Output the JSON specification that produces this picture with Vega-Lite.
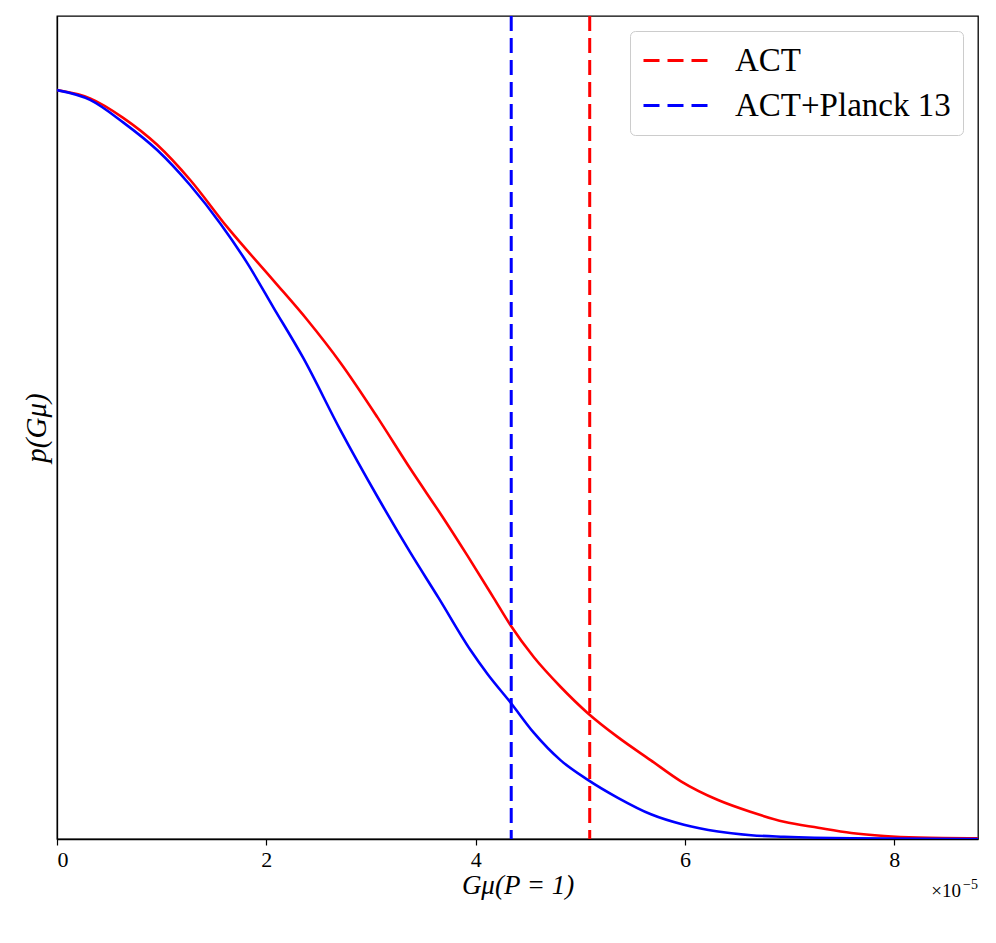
{
  "$schema": "https://vega.github.io/schema/vega-lite/v6.json",
  "autosize": "none",
  "width": 921,
  "height": 823,
  "padding": {"left": 57, "top": 16, "right": 18, "bottom": 104},
  "background": "white",
  "config": {
    "view": {"stroke": "black", "strokeWidth": 1.3},
    "font": "Liberation Serif",
    "axis": {"grid": false, "domainColor": "black", "domainWidth": 1.3, "tickColor": "black", "labelColor": "black", "titleColor": "black", "titleFontWeight": "normal"}
  },
  "datasets": {
    "curves": [
      {"series": "ACT", "gmu": 0, "p": 1.0},
      {"series": "ACT", "gmu": 0.316, "p": 0.989},
      {"series": "ACT", "gmu": 0.632, "p": 0.963},
      {"series": "ACT", "gmu": 0.957, "p": 0.927},
      {"series": "ACT", "gmu": 1.273, "p": 0.880},
      {"series": "ACT", "gmu": 1.627, "p": 0.817},
      {"series": "ACT", "gmu": 2.067, "p": 0.746},
      {"series": "ACT", "gmu": 2.392, "p": 0.693},
      {"series": "ACT", "gmu": 2.708, "p": 0.636},
      {"series": "ACT", "gmu": 3.062, "p": 0.563},
      {"series": "ACT", "gmu": 3.378, "p": 0.494},
      {"series": "ACT", "gmu": 3.694, "p": 0.428},
      {"series": "ACT", "gmu": 3.923, "p": 0.378},
      {"series": "ACT", "gmu": 4.172, "p": 0.322},
      {"series": "ACT", "gmu": 4.335, "p": 0.285},
      {"series": "ACT", "gmu": 4.555, "p": 0.243},
      {"series": "ACT", "gmu": 4.813, "p": 0.203},
      {"series": "ACT", "gmu": 5.072, "p": 0.168},
      {"series": "ACT", "gmu": 5.359, "p": 0.136},
      {"series": "ACT", "gmu": 5.675, "p": 0.105},
      {"series": "ACT", "gmu": 5.962, "p": 0.077},
      {"series": "ACT", "gmu": 6.316, "p": 0.052},
      {"series": "ACT", "gmu": 6.632, "p": 0.036},
      {"series": "ACT", "gmu": 6.947, "p": 0.023},
      {"series": "ACT", "gmu": 7.273, "p": 0.015},
      {"series": "ACT", "gmu": 7.589, "p": 0.008},
      {"series": "ACT", "gmu": 7.904, "p": 0.004},
      {"series": "ACT", "gmu": 8.23, "p": 0.002},
      {"series": "ACT", "gmu": 8.8, "p": 0.001},
      {"series": "ACT+Planck 13", "gmu": 0, "p": 1.0},
      {"series": "ACT+Planck 13", "gmu": 0.316, "p": 0.987},
      {"series": "ACT+Planck 13", "gmu": 0.632, "p": 0.957},
      {"series": "ACT+Planck 13", "gmu": 0.957, "p": 0.920},
      {"series": "ACT+Planck 13", "gmu": 1.273, "p": 0.873},
      {"series": "ACT+Planck 13", "gmu": 1.56, "p": 0.822},
      {"series": "ACT+Planck 13", "gmu": 1.818, "p": 0.769},
      {"series": "ACT+Planck 13", "gmu": 2.067, "p": 0.710},
      {"series": "ACT+Planck 13", "gmu": 2.354, "p": 0.642},
      {"series": "ACT+Planck 13", "gmu": 2.708, "p": 0.546},
      {"series": "ACT+Planck 13", "gmu": 3.062, "p": 0.457},
      {"series": "ACT+Planck 13", "gmu": 3.378, "p": 0.382},
      {"series": "ACT+Planck 13", "gmu": 3.646, "p": 0.322},
      {"series": "ACT+Planck 13", "gmu": 3.952, "p": 0.252},
      {"series": "ACT+Planck 13", "gmu": 4.115, "p": 0.220},
      {"series": "ACT+Planck 13", "gmu": 4.335, "p": 0.182},
      {"series": "ACT+Planck 13", "gmu": 4.555, "p": 0.142},
      {"series": "ACT+Planck 13", "gmu": 4.813, "p": 0.105},
      {"series": "ACT+Planck 13", "gmu": 5.072, "p": 0.079},
      {"series": "ACT+Planck 13", "gmu": 5.359, "p": 0.055},
      {"series": "ACT+Planck 13", "gmu": 5.675, "p": 0.033},
      {"series": "ACT+Planck 13", "gmu": 5.99, "p": 0.019},
      {"series": "ACT+Planck 13", "gmu": 6.316, "p": 0.010},
      {"series": "ACT+Planck 13", "gmu": 6.632, "p": 0.005},
      {"series": "ACT+Planck 13", "gmu": 6.947, "p": 0.003},
      {"series": "ACT+Planck 13", "gmu": 7.589, "p": 0.001},
      {"series": "ACT+Planck 13", "gmu": 8.8, "p": 0.0}
    ],
    "limits": [
      {"series": "ACT", "gmu": 5.09},
      {"series": "ACT+Planck 13", "gmu": 4.34}
    ]
  },
  "layer": [
    {
      "data": {"name": "curves"},
      "mark": {"type": "line", "strokeWidth": 2.6, "interpolate": "monotone", "clip": true},
      "encoding": {
        "x": {"field": "gmu", "type": "quantitative", "scale": {"domain": [0, 8.8], "nice": false, "zero": false},
          "axis": {"values": [0, 2, 4, 6, 8], "format": "d", "title": "Gμ(P = 1)", "titleFont": "Liberation Serif", "titleFontStyle": "italic", "titleFontSize": 27, "titlePadding": 2, "labelFontSize": 22, "labelPadding": 4, "tickSize": 6, "tickWidth": 1.2}},
        "y": {"field": "p", "type": "quantitative", "scale": {"domain": [0, 1.099], "nice": false},
          "axis": {"labels": false, "ticks": false, "title": "p(Gμ)", "titleFontStyle": "italic", "titleFontSize": 29, "titlePadding": 6}},
        "color": {"field": "series", "type": "nominal",
          "scale": {"domain": ["ACT", "ACT+Planck 13"], "range": ["#ff0000", "#0000ff"]},
          "legend": {"title": null, "orient": "top-right", "offset": 15, "symbolType": "M-1,0L3,0", "symbolDash": [16, 8], "symbolStrokeWidth": 3, "symbolSize": 1024,
            "labelFontSize": 33, "labelFont": "Liberation Serif", "labelColor": "black", "labelOffset": 58, "labelLimit": 500, "rowPadding": 10,
            "padding": 12, "fillColor": "white", "strokeColor": "#cccccc", "cornerRadius": 5}},
        "detail": {"field": "series"}
      }
    },
    {
      "data": {"name": "limits"},
      "mark": {"type": "rule", "strokeWidth": 3, "strokeDash": [15, 7]},
      "encoding": {
        "x": {"field": "gmu", "type": "quantitative"},
        "color": {"field": "series", "type": "nominal"}
      }
    },
    {
      "data": {"values": [{"label": "×10"}]},
      "mark": {"type": "text", "align": "right", "baseline": "alphabetic", "fontSize": 19, "font": "Liberation Serif", "color": "black", "dx": -17},
      "encoding": {
        "text": {"field": "label"},
        "x": {"datum": 8.8},
        "y": {"datum": -0.077}
      }
    },
    {
      "data": {"values": [{"label": "−5"}]},
      "mark": {"type": "text", "align": "right", "baseline": "alphabetic", "fontSize": 14, "font": "Liberation Serif", "color": "black", "dy": -8},
      "encoding": {
        "text": {"field": "label"},
        "x": {"datum": 8.8},
        "y": {"datum": -0.077}
      }
    }
  ]
}
